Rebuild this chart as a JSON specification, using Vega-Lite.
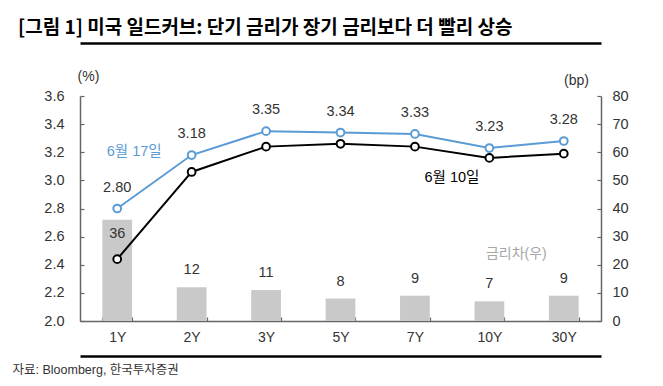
{
  "$schema": "https://vega.github.io/schema/vega-lite/v6.json",
  "background": "white",
  "padding": {"left": 12, "top": 19, "right": 7, "bottom": 6},
  "config": {
    "font": "Liberation Sans, Noto Sans CJK KR",
    "view": {"stroke": null}
  },
  "title": {
    "text": "[그림 1] 미국 일드커브: 단기 금리가 장기 금리보다 더 빨리 상승",
    "anchor": "start",
    "font": "Noto Sans CJK KR",
    "fontSize": 19,
    "fontWeight": "bold",
    "color": "#000000",
    "offset": 5,
    "dx": 6
  },
  "datasets": {
    "rates": [
      {"tenor": "1Y", "date": "6월 10일", "rate": 2.44},
      {"tenor": "2Y", "date": "6월 10일", "rate": 3.06},
      {"tenor": "3Y", "date": "6월 10일", "rate": 3.24},
      {"tenor": "5Y", "date": "6월 10일", "rate": 3.26},
      {"tenor": "7Y", "date": "6월 10일", "rate": 3.24},
      {"tenor": "10Y", "date": "6월 10일", "rate": 3.16},
      {"tenor": "30Y", "date": "6월 10일", "rate": 3.19},
      {"tenor": "1Y", "date": "6월 17일", "rate": 2.80},
      {"tenor": "2Y", "date": "6월 17일", "rate": 3.18},
      {"tenor": "3Y", "date": "6월 17일", "rate": 3.35},
      {"tenor": "5Y", "date": "6월 17일", "rate": 3.34},
      {"tenor": "7Y", "date": "6월 17일", "rate": 3.33},
      {"tenor": "10Y", "date": "6월 17일", "rate": 3.23},
      {"tenor": "30Y", "date": "6월 17일", "rate": 3.28}
    ],
    "spread": [
      {"tenor": "1Y", "spread": 36},
      {"tenor": "2Y", "spread": 12},
      {"tenor": "3Y", "spread": 11},
      {"tenor": "5Y", "spread": 8},
      {"tenor": "7Y", "spread": 9},
      {"tenor": "10Y", "spread": 7},
      {"tenor": "30Y", "spread": 9}
    ],
    "notes": [
      {"tenor": "1Y", "rate": 3.2, "note": "6월 17일"},
      {"tenor": "7Y", "rate": 3.02, "note": "6월 10일"}
    ]
  },
  "width": 521,
  "height": 225,
  "layer": [
    {
      "data": {"name": "spread"},
      "encoding": {
        "x": {
          "field": "tenor",
          "type": "nominal",
          "sort": ["1Y", "2Y", "3Y", "5Y", "7Y", "10Y", "30Y"],
          "scale": {"paddingInner": 0.6, "paddingOuter": 0.3},
          "axis": {
            "orient": "bottom",
            "title": null,
            "labelAngle": 0,
            "labelFontSize": 14,
            "labelColor": "#333333",
            "labelPadding": 13,
            "domainColor": "#666666",
            "domainWidth": 1.5,
            "tickColor": "#666666",
            "tickWidth": 1.2,
            "tickSize": -4,
            "tickBand": "extent"
          }
        },
        "y": {
          "field": "spread",
          "type": "quantitative",
          "scale": {"domain": [0, 80]},
          "axis": {
            "orient": "right",
            "values": [0, 10, 20, 30, 40, 50, 60, 70, 80],
            "grid": false,
            "title": "(bp)",
            "titleAngle": 0,
            "titleX": -25,
            "titleY": -16,
            "titleAlign": "center",
            "titleBaseline": "middle",
            "titleFontSize": 14,
            "titleFontWeight": "normal",
            "titleColor": "#333333",
            "labelFontSize": 14.5,
            "labelColor": "#333333",
            "labelPadding": 15,
            "domainColor": "#666666",
            "domainWidth": 1.5,
            "tickColor": "#666666",
            "tickWidth": 1.2,
            "tickSize": -4
          }
        }
      },
      "layer": [
        {"mark": {"type": "bar", "color": "#c9c9c9"}},
        {
          "transform": [{"filter": "datum.spread < 30"}],
          "mark": {"type": "text", "dy": -17, "fontSize": 14.5, "color": "#333333", "baseline": "middle"},
          "encoding": {"text": {"field": "spread", "type": "quantitative"}}
        },
        {
          "transform": [{"filter": "datum.spread >= 30"}],
          "mark": {"type": "text", "dy": 14, "fontSize": 14.5, "color": "#333333", "baseline": "middle"},
          "encoding": {"text": {"field": "spread", "type": "quantitative"}}
        },
        {
          "data": {"values": [{"tenor": "10Y", "spread": 24, "note": "금리차(우)"}]},
          "mark": {"type": "text", "dx": 27, "fontSize": 14, "color": "#a6a6a6", "baseline": "middle"},
          "encoding": {"text": {"field": "note", "type": "nominal"}}
        }
      ]
    },
    {
      "data": {"name": "rates"},
      "encoding": {
        "x": {
          "field": "tenor",
          "type": "nominal",
          "sort": ["1Y", "2Y", "3Y", "5Y", "7Y", "10Y", "30Y"],
          "scale": {"paddingInner": 0.6, "paddingOuter": 0.3},
          "axis": {
            "orient": "top",
            "offset": 53,
            "title": null,
            "labels": false,
            "ticks": false,
            "grid": false,
            "domain": true,
            "domainColor": "#000000",
            "domainWidth": 2.5
          }
        },
        "y": {
          "field": "rate",
          "type": "quantitative",
          "scale": {"domain": [2, 3.6]},
          "axis": {
            "orient": "left",
            "values": [2, 2.2, 2.4, 2.6, 2.8, 3, 3.2, 3.4, 3.6],
            "format": ".1f",
            "grid": false,
            "title": "(%)",
            "titleAngle": 0,
            "titleX": 8,
            "titleY": -20,
            "titleAlign": "center",
            "titleBaseline": "middle",
            "titleFontSize": 14,
            "titleFontWeight": "normal",
            "titleColor": "#333333",
            "labelFontSize": 14.5,
            "labelColor": "#333333",
            "labelPadding": 20,
            "domainColor": "#666666",
            "domainWidth": 1.5,
            "tickColor": "#666666",
            "tickWidth": 1.2,
            "tickSize": -4
          }
        }
      },
      "layer": [
        {
          "mark": {"type": "line", "strokeWidth": 2},
          "encoding": {
            "color": {
              "field": "date",
              "type": "nominal",
              "scale": {"domain": ["6월 10일", "6월 17일"], "range": ["#000000", "#5b9bd5"]},
              "legend": null
            }
          }
        },
        {
          "mark": {"type": "point", "filled": false, "fill": "white", "size": 60, "strokeWidth": 2, "opacity": 1},
          "encoding": {
            "color": {
              "field": "date",
              "type": "nominal",
              "scale": {"domain": ["6월 10일", "6월 17일"], "range": ["#000000", "#5b9bd5"]},
              "legend": null
            }
          }
        },
        {
          "transform": [{"filter": "datum.date == '6월 17일'"}],
          "mark": {"type": "text", "dy": -21, "fontSize": 14.5, "color": "#333333", "baseline": "middle"},
          "encoding": {"text": {"field": "rate", "type": "quantitative", "format": ".2f"}}
        }
      ]
    },
    {
      "data": {"name": "notes"},
      "encoding": {
        "x": {
          "field": "tenor",
          "type": "nominal",
          "sort": ["1Y", "2Y", "3Y", "5Y", "7Y", "10Y", "30Y"],
          "scale": {"paddingInner": 0.6, "paddingOuter": 0.3},
          "axis": {
            "orient": "top",
            "offset": -260,
            "labels": false,
            "ticks": false,
            "grid": false,
            "domain": true,
            "domainColor": "#000000",
            "domainWidth": 2.5,
            "title": "자료: Bloomberg, 한국투자증권",
            "titleX": -68,
            "titleY": 7,
            "titleAlign": "left",
            "titleAnchor": "start",
            "titleBaseline": "top",
            "titleFont": "Liberation Sans, Noto Sans CJK KR",
            "titleFontSize": 12.5,
            "titleFontWeight": "normal",
            "titleColor": "#333333"
          }
        },
        "y": {
          "field": "rate",
          "type": "quantitative",
          "scale": {"domain": [2, 3.6]},
          "axis": null
        }
      },
      "layer": [
        {
          "transform": [{"filter": "datum.note == '6월 17일'"}],
          "mark": {"type": "text", "dx": 17, "fontSize": 14.5, "color": "#5b9bd5", "baseline": "middle"},
          "encoding": {"text": {"field": "note", "type": "nominal"}}
        },
        {
          "transform": [{"filter": "datum.note == '6월 10일'"}],
          "mark": {"type": "text", "dx": 37, "fontSize": 14.5, "color": "#000000", "baseline": "middle"},
          "encoding": {"text": {"field": "note", "type": "nominal"}}
        }
      ]
    }
  ],
  "resolve": {"scale": {"y": "independent"}, "axis": {"x": "independent"}}
}
